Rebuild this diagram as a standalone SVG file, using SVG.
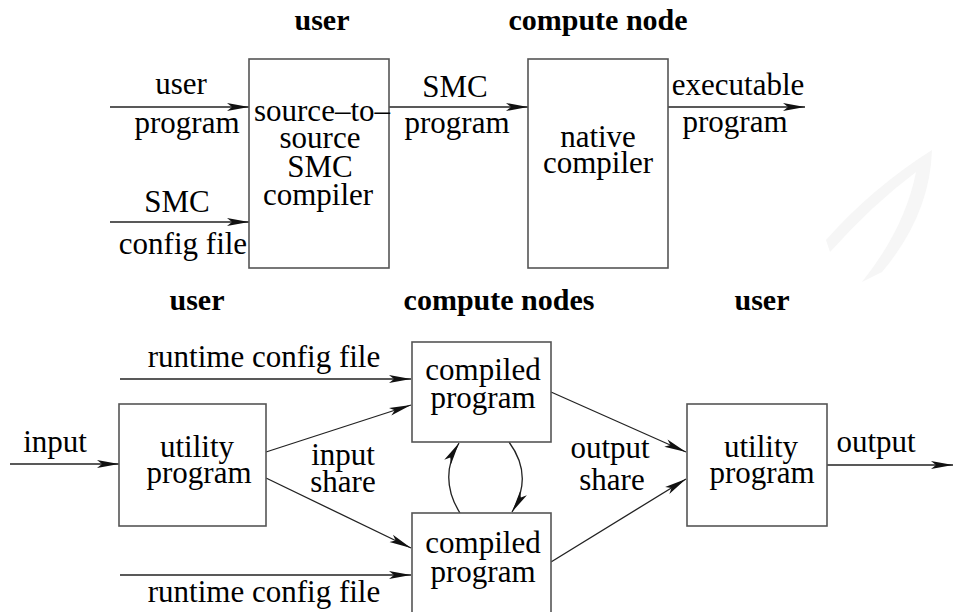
<svg xmlns="http://www.w3.org/2000/svg" width="953" height="612" viewBox="0 0 953 612">
<style>
text{font-family:"Liberation Serif","Times New Roman",serif;font-size:31px;fill:#000;text-anchor:middle}
.t{font-weight:bold;font-size:30px}
.box{fill:#fff;stroke:#555;stroke-width:1.6}
.ln{fill:none;stroke:#222;stroke-width:1.3}
</style>
<defs>
<marker id="ah" markerUnits="userSpaceOnUse" markerWidth="24" markerHeight="10" refX="22" refY="5" orient="auto">
<path d="M0,1 L22,5 L0,9 L5,5 z" fill="#111"/>
</marker>
</defs>
<rect width="953" height="612" fill="#fff"/>
<g id="watermark" fill="#f6f6f6">
<path d="M826,240 Q872,188 932,150 Q930,215 882,272 L862,282 Q905,228 916,172 Q872,205 830,252 Z"/>
</g>
<g id="titles">
<text class="t" x="322" y="30">user</text>
<text class="t" x="598" y="30">compute node</text>
<text class="t" x="197" y="310">user</text>
<text class="t" x="499" y="310">compute nodes</text>
<text class="t" x="762" y="310">user</text>
</g>
<g id="connectors">
<line class="ln" x1="110" y1="107" x2="249" y2="107" marker-end="url(#ah)"/>
<line class="ln" x1="110" y1="222" x2="249" y2="222" marker-end="url(#ah)"/>
<line class="ln" x1="389" y1="107" x2="528" y2="107" marker-end="url(#ah)"/>
<line class="ln" x1="668" y1="107" x2="805" y2="107" marker-end="url(#ah)"/>
<line class="ln" x1="10" y1="464" x2="119" y2="464" marker-end="url(#ah)"/>
<line class="ln" x1="120" y1="379" x2="411" y2="379" marker-end="url(#ah)"/>
<line class="ln" x1="120" y1="575" x2="411" y2="575" marker-end="url(#ah)"/>
<line class="ln" x1="266" y1="452" x2="411" y2="405" marker-end="url(#ah)"/>
<line class="ln" x1="266" y1="478" x2="411" y2="548" marker-end="url(#ah)"/>
<path class="ln" d="M460,513 Q438,478 459,443" marker-end="url(#ah)"/>
<path class="ln" d="M509,442 Q534,476 512,512" marker-end="url(#ah)"/>
<line class="ln" x1="551" y1="392" x2="686" y2="452" marker-end="url(#ah)"/>
<line class="ln" x1="551" y1="562" x2="686" y2="479" marker-end="url(#ah)"/>
<line class="ln" x1="827" y1="465" x2="953" y2="465" marker-end="url(#ah)"/>
</g>
<g id="edge-labels">
<text x="181" y="94">user</text>
<text x="187" y="133">program</text>
<text x="177" y="212">SMC</text>
<text x="183" y="254">config file</text>
<text x="455" y="97">SMC</text>
<text x="457" y="133">program</text>
<text x="738" y="95">executable</text>
<text x="735" y="132">program</text>
<text x="55" y="452">input</text>
<text x="264" y="367">runtime config file</text>
<text x="264" y="602">runtime config file</text>
<text x="343" y="465">input</text>
<text x="343" y="492">share</text>
<text x="610" y="458">output</text>
<text x="612" y="490">share</text>
<text x="876" y="452">output</text>
</g>
<g id="smc-compiler">
<rect class="box" x="249" y="59" width="140" height="209"/>
<text x="322" y="121">source–to–</text>
<text x="320" y="148">source</text>
<text x="320" y="177">SMC</text>
<text x="318" y="205">compiler</text>
</g>
<g id="native-compiler">
<rect class="box" x="528" y="59" width="140" height="209"/>
<text x="598" y="147">native</text>
<text x="598" y="173">compiler</text>
</g>
<g id="utility-in">
<rect class="box" x="119" y="404" width="147" height="122"/>
<text x="197" y="457">utility</text>
<text x="199" y="483">program</text>
</g>
<g id="compiled-top">
<rect class="box" x="412" y="342" width="139" height="100"/>
<text x="483" y="380">compiled</text>
<text x="483" y="408">program</text>
</g>
<g id="compiled-bottom">
<rect class="box" x="412" y="513" width="139" height="110"/>
<text x="483" y="553">compiled</text>
<text x="483" y="582">program</text>
</g>
<g id="utility-out">
<rect class="box" x="687" y="404" width="140" height="122"/>
<text x="761" y="457">utility</text>
<text x="762" y="483">program</text>
</g>
</svg>
